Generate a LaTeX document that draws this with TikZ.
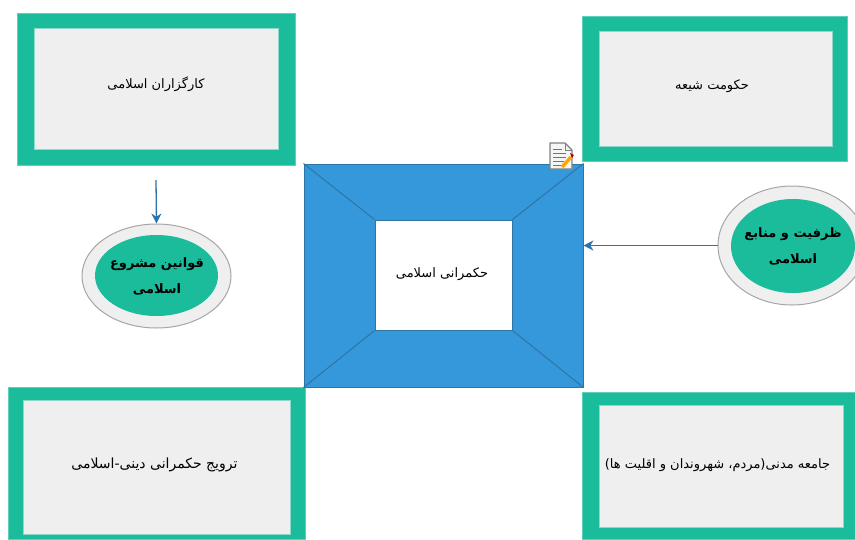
\documentclass[tikz,border=0pt]{standalone}
\usepackage{fontspec}
\newfontfamily\arabicfont[Script=Arabic]{DejaVu Sans}
\TeXXeTstate=1
\usetikzlibrary{shapes.geometric,arrows.meta}
\definecolor{tealbox}{HTML}{1ABC9C}
\definecolor{greybox}{HTML}{EFEFEF}
\definecolor{bluebox}{HTML}{3498DB}
\definecolor{blueedge}{HTML}{2E75A6}
\definecolor{arrowblue}{HTML}{2F72A8}
\tikzset{
  x=1pt,y=-1pt,
  outerbox/.style={rectangle,draw=tealbox!70!white,line width=.5pt,fill=tealbox,inner sep=0pt},
  innerbox/.style={rectangle,draw=tealbox!45!greybox,line width=.6pt,fill=greybox,inner sep=0pt},
  outerell/.style={ellipse,draw=black!35,line width=1pt,fill=greybox,inner sep=0pt},
  innerell/.style={ellipse,fill=tealbox,inner sep=0pt},
  label7/.style={font=\arabicfont\fontsize{13}{16}\selectfont,text=black,inner sep=0pt},
  label8/.style={font=\arabicfont\fontsize{14}{16}\selectfont,text=black,inner sep=0pt},
  label9/.style={font=\arabicfont\bfseries\fontsize{13}{26}\selectfont,text=black,inner sep=0pt,align=center},
  link/.style={draw=arrowblue,line width=1.3pt,-{Stealth[length=10pt,width=10pt]}},
  bevel/.style={draw=blueedge,line width=1pt}
}
\begin{document}
\begin{tikzpicture}
\useasboundingbox (0,0) rectangle (855,539);
% top-left
\node[outerbox,minimum width=278pt,minimum height=152pt] (tlo) at (156,89) {};
\node[innerbox,minimum width=244pt,minimum height=121pt] (tli) at (156,88.5) {};
\node[label7] (tlt) at (156,84) {\beginR کارگزاران اسلامی\endR};
% top-right
\node[outerbox,minimum width=265pt,minimum height=145pt] (tro) at (714.5,88.5) {};
\node[innerbox,minimum width=233pt,minimum height=115pt] (tri) at (715.5,88.5) {};
\node[label7] (trt) at (712,86) {\beginR حکومت شیعه\endR};
% bottom-left
\node[outerbox,minimum width=297pt,minimum height=152pt] (blo) at (156.5,463) {};
\node[innerbox,minimum width=267pt,minimum height=134pt] (bli) at (156.5,467) {};
\node[label8] (blt) at (154.5,465) {\beginR ترویج حکمرانی دینی-اسلامی\endR};
% bottom-right
\node[outerbox,minimum width=273pt,minimum height=147pt] (bro) at (718.5,465.5) {};
\node[innerbox,minimum width=244pt,minimum height=122pt] (bri) at (721,466) {};
\node[label7] (brt) at (717.5,465) {\beginR جامعه مدنی(مردم، شهروندان و اقلیت ها)\endR};
% centre
\node[rectangle,draw=blueedge,line width=1pt,fill=bluebox,inner sep=0pt,minimum width=279pt,minimum height=223pt] (co) at (443.5,275.5) {};
\node[rectangle,draw=blueedge,line width=1pt,fill=white,inner sep=0pt,minimum width=137pt,minimum height=110pt] (ci) at (443.5,275) {};
\draw[bevel] (co.north west) -- (ci.north west);
\draw[bevel] (co.north east) -- (ci.north east);
\draw[bevel] (co.south west) -- (ci.south west);
\draw[bevel] (co.south east) -- (ci.south east);
\node[label7] (ct) at (442,274) {\beginR حکمرانی اسلامی\endR};
% left ellipse
\node[outerell,minimum width=149pt,minimum height=104pt] (lo) at (156.5,276) {};
\node[innerell,minimum width=123pt,minimum height=81pt] (li) at (156.5,275.5) {};
\node[label9] (lt) at (157,276) {\beginR قوانین مشروع\endR\\\beginR اسلامی\endR};
% right ellipse
\node[outerell,minimum width=148pt,minimum height=119pt] (ro) at (792,245.5) {};
\node[innerell,minimum width=124pt,minimum height=94pt] (ri) at (793,246) {};
\node[label9] (rt) at (793,246) {\beginR ظرفیت و منابع\endR\\\beginR اسلامی\endR};
% connectors
\coordinate (tlfoot) at (156,180);
\draw[link] (tlfoot) -- (lo.north);
\draw[link] (ro.west) -- (ro.west -| co.east);
% note icon
\draw[draw=black!50,line width=1.2pt,fill=greybox!60!white,line join=round]
  (550,143) -- (565,143) -- (572,150) -- (572,169) -- (550,169) -- cycle;
\draw[draw=black!50,line width=.6pt] (565,143) -- (565,150) -- (572,150);
\foreach \yy/\xx in {149/562,153/566,157/566,161/564,165/561}
  \draw[draw=black!55,line width=.8pt] (553,\yy) -- (\xx,\yy);
\draw[draw=orange!70!yellow,line width=3.5pt] (562,167) -- (571,157);
\fill[red!70!black] (570,153) -- (574,155) -- (572,158) -- cycle;
\end{tikzpicture}
\end{document}
